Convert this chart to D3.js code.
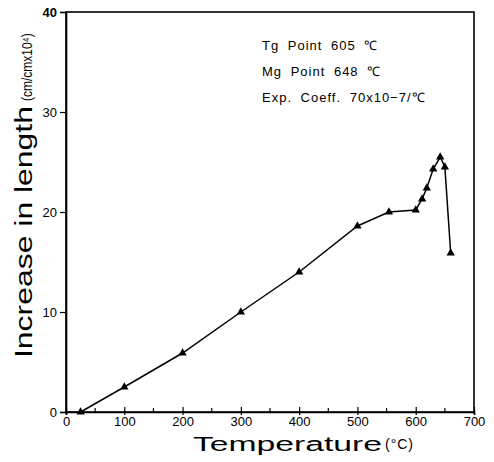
<!DOCTYPE html>
<html>
<head>
<meta charset="utf-8">
<script src="https://cdn.jsdelivr.net/npm/d3@7"></script>
<style>
  body { margin: 0; background: #fff; }
  text { font-family: "Liberation Sans", Arial, sans-serif; fill: #000; }
</style>
</head>
<body>
<div class="chart"></div>
<script>
var temps = [25, 100, 200, 300, 400, 500, 554, 600, 611, 619, 630, 642, 650, 660];
var lengths = [0, 2.5, 5.9, 10.0, 14.0, 18.6, 20.0, 20.2, 21.3, 22.4, 24.3, 25.5, 24.5, 15.9];
var xTicks = [0, 100, 200, 300, 400, 500, 600, 700];
var xMinor = [50, 150, 250, 350, 450, 550, 650];
var yTicks = [0, 10, 20, 30, 40];
var notes = ["Tg Point 605 \u2103", "Mg Point 648 \u2103", "Exp. Coeff. 70x10\u22127/\u2103"];

var svgWidth = 494;
var svgHeight = 462;
var margin = { top: 12, right: 20, bottom: 50, left: 66 };
var width = svgWidth - margin.left - margin.right;
var height = svgHeight - margin.top - margin.bottom;

var svg = d3.select(".chart")
  .append("svg")
  .attr("width", svgWidth)
  .attr("height", svgHeight);

var chartGroup = svg.append("g")
  .attr("transform", `translate(${margin.left}, ${margin.top})`);

var x = d3.scaleLinear().domain([0, 700]).range([0, width]);
var y = d3.scaleLinear().domain([0, 40]).range([height, 0]);

var data = temps.map((t, i) => ({ t: t, v: lengths[i] }));

// frame
chartGroup.append("rect")
  .attr("width", width).attr("height", height)
  .attr("fill", "none").attr("stroke", "#000").attr("stroke-width", 1.6);

// x axis
var xAxis = chartGroup.append("g")
  .attr("transform", `translate(0, ${height})`)
  .call(d3.axisBottom(x).tickValues(xTicks).tickSize(3).tickPadding(2));
xAxis.select(".domain").attr("stroke-width", 1.6);
xAxis.selectAll(".tick line").attr("y1", -5).attr("y2", 3).attr("stroke-width", 1.2);
xAxis.selectAll(".tick text").attr("font-size", "13px").attr("dy", "0.7em");
chartGroup.selectAll(".xminor")
  .data(xMinor).enter().append("line")
  .attr("x1", d => x(d)).attr("x2", d => x(d))
  .attr("y1", height).attr("y2", height - 4)
  .attr("stroke", "#000").attr("stroke-width", 1.2);

// y axis
var yAxis = chartGroup.append("g")
  .call(d3.axisLeft(y).tickValues(yTicks).tickSize(6).tickPadding(3));
yAxis.select(".domain").attr("stroke-width", 1.6);
yAxis.selectAll(".tick line").attr("stroke-width", 1.2);
yAxis.selectAll(".tick text").attr("font-size", "13px");
yAxis.selectAll(".tick text").filter(d => d === 40).attr("font-weight", "bold");

// curve
var line = d3.line().x(d => x(d.t)).y(d => y(d.v));
chartGroup.append("path")
  .datum(data)
  .attr("d", line)
  .attr("fill", "none")
  .attr("stroke", "#000")
  .attr("stroke-width", 1.5);

chartGroup.selectAll(".pt")
  .data(data).enter().append("path")
  .attr("transform", d => `translate(${x(d.t)}, ${y(d.v)})`)
  .attr("d", d3.symbol().type(d3.symbolTriangle).size(30))
  .attr("fill", "#000");

// notes
chartGroup.selectAll(".note")
  .data(notes).enter().append("text")
  .attr("x", 196)
  .attr("y", (d, i) => 38 + i * 26)
  .attr("font-size", "13px")
  .attr("letter-spacing", "1px")
  .attr("word-spacing", "4px")
  .text(d => d);

// axis labels
svg.append("text")
  .attr("x", 193)
  .attr("y", 451)
  .attr("font-size", "20px")
  .attr("textLength", 189)
  .attr("lengthAdjust", "spacingAndGlyphs")
  .text("Temperature");
svg.append("text")
  .attr("x", 385)
  .attr("y", 449)
  .attr("font-size", "14px")
  .attr("letter-spacing", "1px")
  .text("(\u00b0C)");

var yl = svg.append("text")
  .attr("transform", "translate(32, 358) rotate(-90) scale(1, 1.15)");
yl.append("tspan")
  .attr("font-size", "21px")
  .attr("textLength", 252)
  .attr("lengthAdjust", "spacingAndGlyphs")
  .text("Increase in length");
yl.append("tspan")
  .attr("dx", 5)
  .attr("font-size", "12px")
  .text("(cm/cmx10\u2074)");
</script>
</body>
</html>
